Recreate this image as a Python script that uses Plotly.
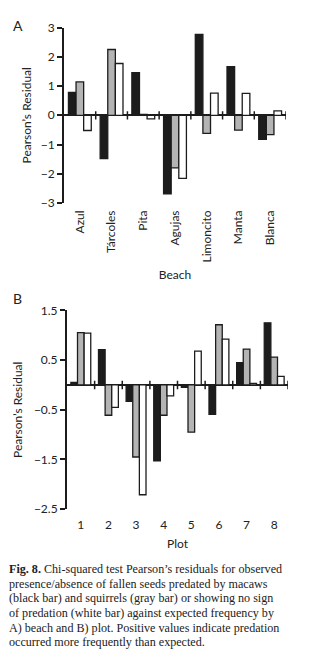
import plotly.graph_objects as go

W, H = 320, 668

# ---------- data ----------
beaches = ["Azul", "Tárcoles", "Pita", "Agujas", "Limoncito", "Manta", "Blanca"]
a_macaw = [0.78, -1.48, 1.46, -2.69, 2.77, 1.66, -0.82]
a_squirrel = [1.14, 2.25, 0.03, -1.80, -0.62, -0.51, -0.66]
a_none = [-0.52, 1.77, -0.12, -2.16, 0.76, 0.75, 0.15]

plots = ["1", "2", "3", "4", "5", "6", "7", "8"]
b_macaw = [0.05, 0.71, -0.33, -1.53, -0.05, -0.59, 0.45, 1.25]
b_squirrel = [1.05, -0.61, -1.45, -0.61, -0.95, 1.21, 0.72, 0.56]
b_none = [1.04, -0.45, -2.21, -0.22, 0.68, 0.92, 0.03, 0.17]

a_yticks = [3, 2, 1, 0, -1, -2, -3]
b_yticks = [1.5, 0.5, -0.5, -1.5, -2.5]

caption_lines = [
    "<b>Fig. 8.</b> Chi-squared test Pearson’s residuals for observed",
    "presence/absence of fallen seeds predated by macaws",
    "(black bar) and squirrels (gray bar) or showing no sign",
    "of predation (white bar) against expected frequency by",
    "A) beach and B) plot. Positive values indicate predation",
    "occurred more frequently than expected.",
]

# ---------- style ----------
BLACK = "#1c1c1c"
GRAY = "#b4b4b4"
WHITE = "#ffffff"
EDGE = "#1c1c1c"
SANS = "Lato, Open Sans, Liberation Sans, sans-serif"
SERIF = "Liberation Serif, Times New Roman, serif"

fig = go.Figure()

def add_group(cats, vals, color, xa, ya):
    fig.add_trace(go.Bar(
        x=cats, y=vals, xaxis=xa, yaxis=ya,
        marker=dict(color=color, line=dict(color=EDGE, width=1.3)),
        showlegend=False, hoverinfo="skip",
    ))

add_group(beaches, a_macaw, BLACK, "x", "y")
add_group(beaches, a_squirrel, GRAY, "x", "y")
add_group(beaches, a_none, WHITE, "x", "y")
add_group(plots, b_macaw, BLACK, "x2", "y2")
add_group(plots, b_squirrel, GRAY, "x2", "y2")
add_group(plots, b_none, WHITE, "x2", "y2")

def px_x(p):
    return p / W

def px_y(p):
    return 1 - p / H

tickfont = dict(family=SANS, size=12, color="#222")
titlefont = dict(family=SANS, size=12, color="#222")

fig.update_layout(
    width=W, height=H,
    margin=dict(l=0, r=0, t=0, b=0),
    paper_bgcolor="white", plot_bgcolor="white",
    barmode="group", bargap=0.28, bargroupgap=0,
    xaxis=dict(
        domain=[px_x(64), px_x(286)], anchor="y",
        type="category", categoryorder="array", categoryarray=beaches,
        range=[-0.5, len(beaches) - 0.5],
        showline=False, showgrid=False, zeroline=False, ticks="",
        tickangle=-90, tickfont=tickfont, ticklabelstandoff=4,
        title=dict(text="Beach", font=titlefont, standoff=9),
    ),
    yaxis=dict(
        domain=[px_y(199.5), px_y(20)], anchor="x",
        range=[-3, 3], tickvals=a_yticks,
        showline=True, linecolor=EDGE, linewidth=2,
        ticks="outside", ticklen=5, tickwidth=1.5, tickcolor=EDGE,
        showgrid=False, zeroline=True, zerolinecolor=EDGE, zerolinewidth=2,
        tickfont=tickfont,
        title=dict(text="Pearson’s Residual", font=titlefont, standoff=6),
    ),
    xaxis2=dict(
        domain=[px_x(67), px_x(288)], anchor="y2",
        type="category", categoryorder="array", categoryarray=plots,
        range=[-0.5, len(plots) - 0.5],
        showline=False, showgrid=False, zeroline=False, ticks="",
        tickfont=tickfont, ticklabelstandoff=7,
        title=dict(text="Plot", font=titlefont, standoff=8),
    ),
    yaxis2=dict(
        domain=[px_y(512.7), px_y(309.3)], anchor="x2",
        range=[-2.5, 1.5], tickvals=b_yticks,
        showline=True, linecolor=EDGE, linewidth=2,
        ticks="outside", ticklen=5, tickwidth=1.5, tickcolor=EDGE,
        showgrid=False, zeroline=True, zerolinecolor=EDGE, zerolinewidth=2,
        tickfont=tickfont,
        title=dict(text="Pearson’s Residual", font=titlefont, standoff=9),
    ),
)

# crossing tick marks on the zero line at category boundaries
for i in range(len(beaches)):
    fig.add_shape(type="line", xref="x", yref="y",
                  x0=i + 0.5, x1=i + 0.5, y0=-0.14, y1=0.14,
                  line=dict(color=EDGE, width=1.5))
for i in range(len(plots)):
    fig.add_shape(type="line", xref="x2", yref="y2",
                  x0=i + 0.5, x1=i + 0.5, y0=-0.085, y1=0.085,
                  line=dict(color=EDGE, width=1.5))

# panel letters
fig.add_annotation(text="A", x=px_x(11), y=px_y(7), xref="paper", yref="paper",
                   xanchor="left", yanchor="top", showarrow=False,
                   font=dict(family=SANS, size=14, color="#222"))
fig.add_annotation(text="B", x=px_x(11), y=px_y(286), xref="paper", yref="paper",
                   xanchor="left", yanchor="top", showarrow=False,
                   font=dict(family=SANS, size=14, color="#222"))

# caption
for k, line in enumerate(caption_lines):
    fig.add_annotation(text=line, x=px_x(7), y=px_y(574 + 15 * k),
                       xref="paper", yref="paper", xanchor="left", yanchor="middle",
                       showarrow=False, align="left",
                       font=dict(family=SERIF, size=12.1, color="#222"))

fig.write_html("out.html", config={"displayModeBar": False},
               post_script="document.body.style.margin='0';")
